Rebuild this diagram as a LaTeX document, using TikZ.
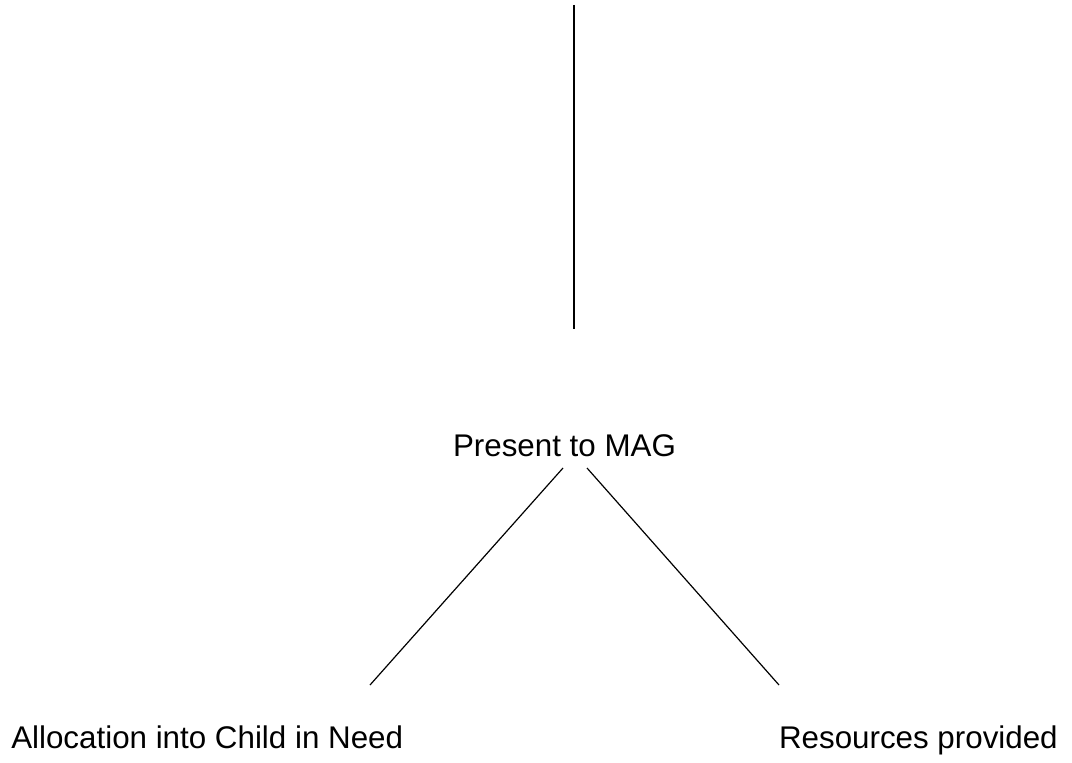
\documentclass[tikz,border=0pt]{standalone}
\usepackage{fontspec}
\setmainfont{Liberation Sans}
\begin{document}
\begin{tikzpicture}[x=0.75pt,y=-0.75pt]

	\def\xMid{574}
	\def\yTop{5}
	\def\yBot{329}
	\def\yText{748}
	\tikzset{txt/.style={inner sep=0pt, font=\fontsize{23.5}{28}\selectfont}}
	\tikzset{lin/.style={draw=black, line width=0.9pt}}

	\useasboundingbox (0,0) rectangle (1072,763);

	%LINEA VERTICAL
	\coordinate (vtop) at (\xMid,\yTop);
	\coordinate (vbot) at (\xMid,\yBot);
	\draw[lin] (vtop) -- (vbot);

	%LABELS
	\node[txt, anchor=base] (mag) at (564.5,456) {Present to MAG};
	\node[txt, anchor=base west] (alloc) at (11,\yText) {Allocation into Child in Need};
	\node[txt, anchor=base east] (res) at (1058,\yText) {Resources provided};

	%RAMAS
	\coordinate (magL) at (563,468);
	\coordinate (magR) at (587,468);
	\coordinate (allocT) at (370,685);
	\coordinate (resT) at (779,685);
	\draw[lin]
		(magL) -- (allocT)
		(magR) -- (resT)
	;

\end{tikzpicture}
\end{document}
